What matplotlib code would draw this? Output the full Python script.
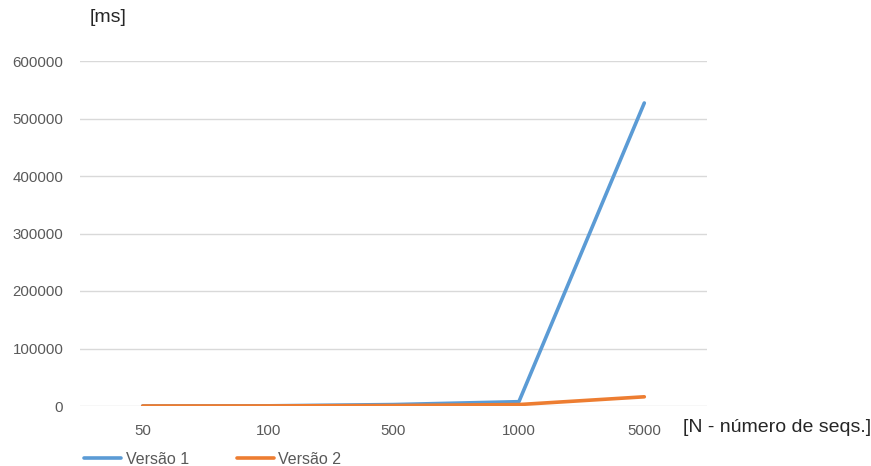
import numpy as np
import matplotlib.pyplot as plt

plt.rcParams['font.family'] = ['Liberation Sans', 'DejaVu Sans']

# tempos de execução por número de sequências
categorias = ["50", "100", "500", "1000", "5000"]
versao1 = [50, 300, 2500, 7500, 527000]
versao2 = [30, 150, 800, 2500, 16000]

fig = plt.figure(figsize=(8.71, 4.66), dpi=100)
ax = fig.add_axes([80 / 871, 60 / 466, 627 / 871, 345 / 466])

x = np.arange(len(categorias))
ax.plot(x, versao1, color="#5b9bd5", lw=2.6, solid_capstyle="round", label="Versão 1", zorder=3)
ax.plot(x, versao2, color="#ed7d31", lw=2.6, solid_capstyle="round", label="Versão 2", zorder=3)

ax.set_xlim(-0.5, len(categorias) - 0.5)
ax.set_ylim(0, 600000)
ax.set_yticks(np.arange(0, 600001, 100000))
ax.set_xticks(x)
ax.set_xticklabels(categorias)
ax.grid(axis="y", color="#d9d9d9", lw=1)
ax.set_axisbelow(True)
for s in ax.spines.values():
    s.set_visible(False)
ax.tick_params(length=0, colors="#595959", labelsize=10.8)
ax.tick_params(axis="x", pad=13)
ax.tick_params(axis="y", pad=12)

fig.text(90 / 871, 1 - 17 / 466, "[ms]", fontsize=14, color="#262626", va="center")
fig.text(683 / 871, 1 - 427 / 466, "[N - número de seqs.]", fontsize=14, color="#262626", va="center")

fig.legend(loc="lower left", bbox_to_anchor=(70 / 871, -0.032), ncol=2, frameon=False,
           fontsize=11.5, handlelength=2.3, handletextpad=0.3, columnspacing=3.0,
           labelcolor="#595959")

fig.savefig("out.png", dpi=100)
